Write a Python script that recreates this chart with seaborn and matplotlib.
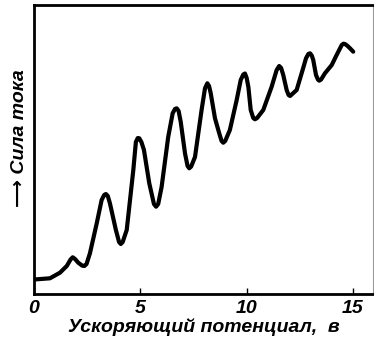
import matplotlib
matplotlib.use("Agg")
import matplotlib.pyplot as plt
import seaborn as sns
import pandas as pd

# Accelerating potential (V) and current (arbitrary units)
potential = [0.0, 0.13, 0.75, 1.22, 1.54, 1.72, 1.82, 1.93, 2.08, 2.27, 2.37, 2.47, 2.63,
             2.95, 3.18, 3.30, 3.38, 3.47, 3.57, 3.85, 4.0, 4.08, 4.17, 4.36, 4.67,
             4.79, 4.88, 4.95, 5.05, 5.17, 5.42, 5.64, 5.74, 5.84, 6.0, 6.31, 6.52,
             6.63, 6.71, 6.80, 6.9, 7.1, 7.22, 7.3, 7.39, 7.57, 7.88, 8.04, 8.15,
             8.23, 8.31, 8.51, 8.71, 8.82, 8.9, 8.99, 9.21, 9.53, 9.72, 9.84, 9.92,
             10.0, 10.08, 10.19, 10.31, 10.39, 10.49, 10.78, 11.17, 11.41, 11.53,
             11.62, 11.72, 11.88, 11.97, 12.04, 12.35, 12.63, 12.79, 12.90, 12.98,
             13.06, 13.13, 13.26, 13.35, 13.41, 13.50, 13.68, 14.0, 14.23, 14.47,
             14.55, 14.62, 14.72, 14.86, 15.01]
current = [14.7, 14.7, 15.7, 21.3, 28, 34.5, 36.7, 35, 31.3, 28.3, 28, 30, 40.7,
           70.7, 94, 99, 100, 98, 90.7, 64, 52, 50, 52, 64, 124,
           152, 156, 155.7, 152, 144, 110.7, 90, 87.3, 90, 107, 157, 180.7,
           185, 185.7, 183, 172, 140.7, 128, 125.7, 127.5, 137, 184, 205.7, 210.7,
           208, 200.7, 175.7, 160.7, 153, 151.3, 153, 164, 194, 214, 219.5, 220.5,
           216, 207, 184, 176, 174.7, 176, 184, 207, 224, 228,
           226, 219, 204, 199, 198, 204, 224, 235.7, 240, 240.7,
           238.5, 234, 219, 214.5, 213.3, 214.5, 220.7, 229, 239, 249,
           250.3, 250, 248.5, 245.7, 242.3]
x_ticks = [0, 5, 10, 15]
x_label = "Ускоряющий потенциал,  в"
y_label = "\u27f6 Сила тока"

df = pd.DataFrame({"V": potential, "I": current})

sns.set_style("white")
plt.rcParams["font.family"] = ["Liberation Sans", "DejaVu Sans"]
plt.rcParams["text.color"] = "black"
plt.rcParams["axes.labelcolor"] = "black"
plt.rcParams["xtick.color"] = "black"
plt.rcParams["ytick.color"] = "black"

fig = plt.figure(figsize=(3.74, 3.46), dpi=100)
ax = fig.add_axes([34 / 374, 52 / 346, 339 / 374, 289 / 346])

sns.lineplot(data=df, x="V", y="I", sort=False, ax=ax, color="black",
             linewidth=3.0, solid_joinstyle="round", solid_capstyle="round")

ax.set_xlim(0, 15.94)
ax.set_ylim(0, 289)
ax.set_xticks(x_ticks)
ax.set_xticklabels([str(t) for t in x_ticks], fontsize=14, fontweight="bold",
                   fontstyle="italic")
ax.set_yticks([])
ax.tick_params(axis="x", direction="in", length=4, width=1, pad=4, bottom=True)
ax.set_xlabel(x_label, fontsize=14, fontweight="bold", fontstyle="italic", labelpad=1)
ax.set_ylabel(y_label, fontsize=14, fontweight="bold", fontstyle="italic")
ax.yaxis.set_label_coords(-0.018, 0.54)

for side in ["left", "bottom", "top"]:
    ax.spines[side].set_visible(True)
    ax.spines[side].set_color("black")
    ax.spines[side].set_linewidth(2.0)
ax.spines["right"].set_color("#999999")
ax.spines["right"].set_linewidth(0.8)

fig.savefig("out.png", dpi=100)
